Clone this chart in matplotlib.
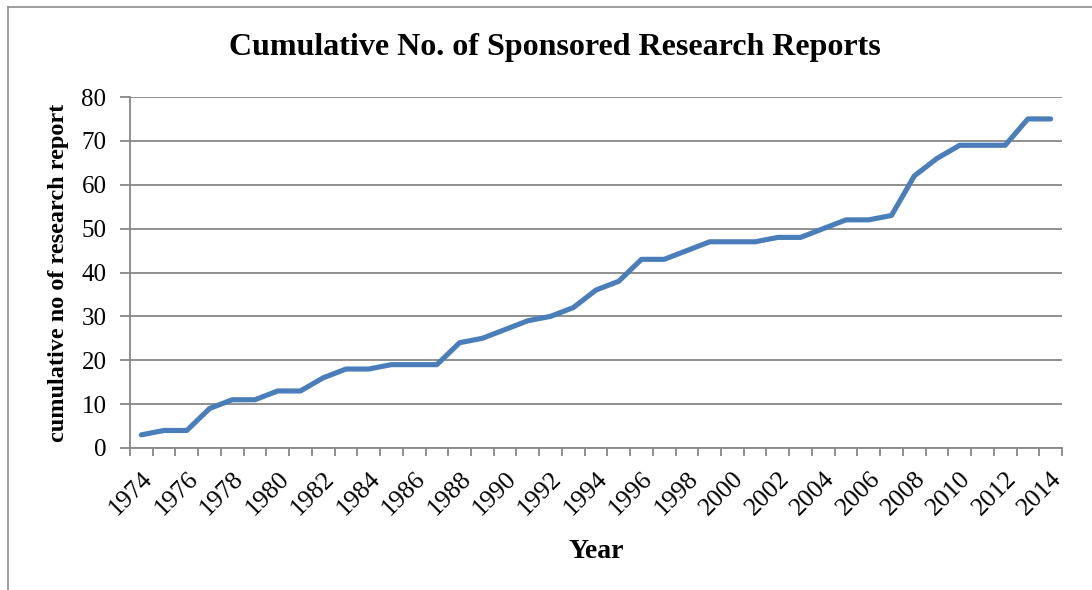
import matplotlib
matplotlib.use("Agg")
import matplotlib.pyplot as plt
from matplotlib.lines import Line2D
from matplotlib.transforms import ScaledTranslation

years = list(range(1974, 2015))
cumulative_reports = [3, 4, 4, 9, 11, 11, 13, 13, 16, 18, 18, 19, 19, 19, 24, 25, 27, 29, 30, 32,
                      36, 38, 43, 43, 45, 47, 47, 47, 48, 48, 50, 52, 52, 53, 62, 66, 69, 69, 69, 75, 75]
title = "Cumulative No. of Sponsored Research Reports"
xlabel = "Year"
ylabel = "cumulative no of research report"

plt.rcParams['font.family'] = ['Liberation Serif', 'DejaVu Serif']

W, H = 1092, 590
fig = plt.figure(figsize=(W / 100, H / 100), dpi=100)
ax = fig.add_axes([130 / W, 1 - 448 / H, (1062 - 130) / W, (448 - 97) / H])

x = list(range(len(years)))
ax.plot(x, cumulative_reports, color='#4A7EBB', lw=3.7, solid_capstyle='round', solid_joinstyle='round', zorder=3)

grid_c = '#878787'
ax.set_xlim(-0.5, len(years) - 0.5)
ax.set_ylim(0, 80)
ax.set_yticks(range(0, 81, 10))
ax.yaxis.grid(True, color=grid_c, lw=1.3)
ax.set_axisbelow(True)
for s in ['top', 'right']:
    ax.spines[s].set_visible(False)
for s in ['left', 'bottom']:
    ax.spines[s].set_color(grid_c)
    ax.spines[s].set_linewidth(1.3)

ax.set_xticks([i - 0.5 for i in range(len(years) + 1)], minor=True)
ax.set_xticks(x[::2])
ax.set_xticklabels([str(y) for y in years[::2]], rotation=45, ha='right', va='top',
                   rotation_mode='anchor', fontsize=18.5)
shift = ScaledTranslation(-6 / 100, 0, fig.dpi_scale_trans)
for lab in ax.get_xticklabels():
    lab.set_transform(lab.get_transform() + shift)
ax.tick_params(axis='x', which='major', length=0, pad=14)
ax.tick_params(axis='x', which='minor', length=6, width=1.3, color=grid_c)
ax.tick_params(axis='y', length=7, width=1.3, color=grid_c, labelsize=18, pad=10)

ax.set_title(title, fontsize=23, fontweight='bold', pad=30, x=(555 - 130) / (1062 - 130))
ax.set_xlabel(xlabel, fontsize=20, fontweight='bold', labelpad=14)
ax.set_ylabel(ylabel, fontsize=17.5, fontweight='bold', labelpad=9)

# chart-area border
bc = '#8c8c8c'
fig.add_artist(Line2D([8 / W, 1.0], [1 - 7 / H, 1 - 7 / H], color=bc, lw=1.2, transform=fig.transFigure))
fig.add_artist(Line2D([8 / W, 8 / W], [0, 1 - 7 / H], color=bc, lw=1.2, transform=fig.transFigure))

fig.savefig('out.png', dpi=100)
